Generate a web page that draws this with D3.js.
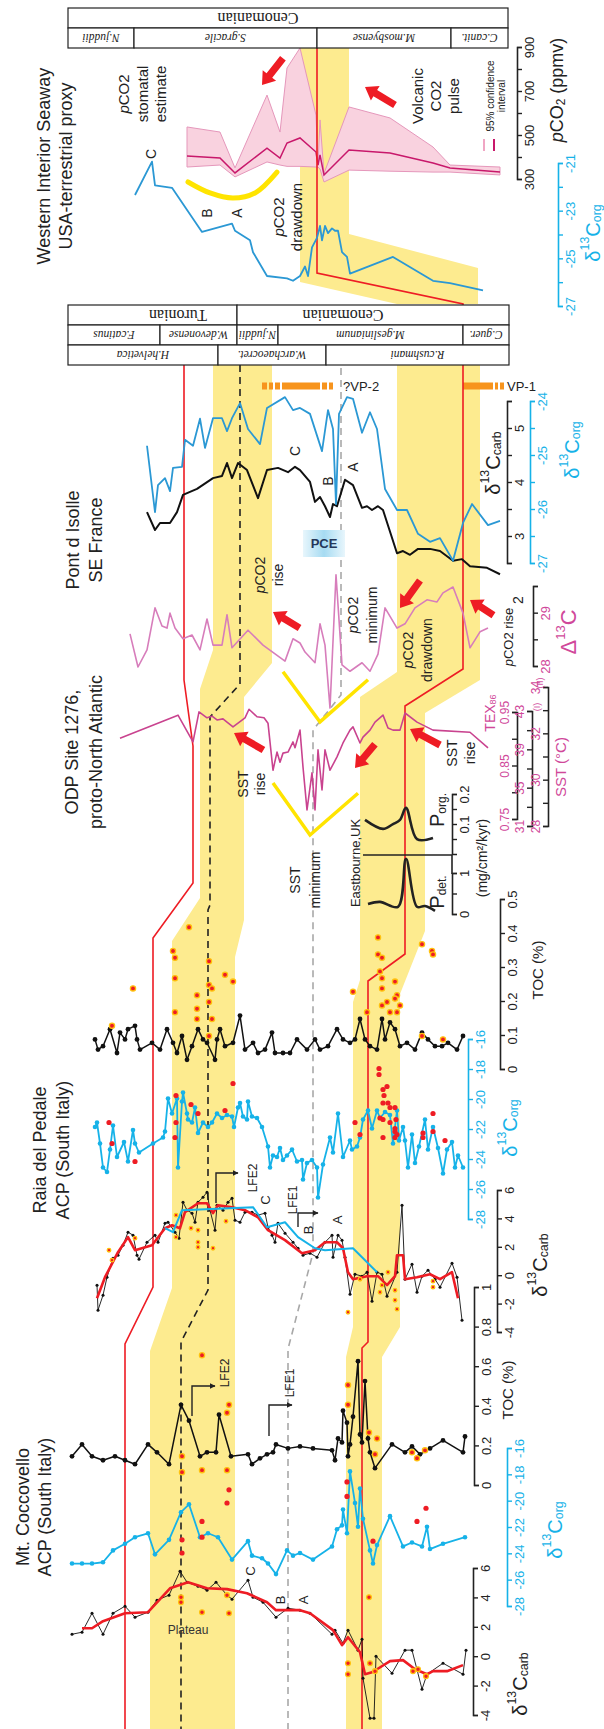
<!DOCTYPE html>
<html>
<head>
<meta charset="utf-8">
<script src="https://cdn.jsdelivr.net/npm/d3@7"></script>
<style>
  body { margin: 0; background: #fff; }
</style>
</head>
<body>
<svg id="fig" width="604" height="1729"></svg>
<script>
// ---- data: [stratigraphic position, value] ----
// Mt. Coccovello
const cocCarb = [[43.8,1.56],[42.8,1.70],[41.8,2.99],[40.7,1.56],[39.7,2.99],[38.5,3.47],[37.5,2.72],[36.2,3.06],[35.3,3.88],[34.1,4.22],[33.0,5.85],[32.3,5.10],[31.2,4.83],[30.3,4.56],[29.4,5.10],[28.3,4.22],[27.8,3.95],[26.2,5.24],[25.7,4.08],[24.7,3.74],[23.4,2.72],[22.2,3.33],[21.0,3.20],[20.0,2.99],[17.8,1.56],[17.5,1.84],[16.7,0.95],[16.2,1.84],[15.2,0.48],[14.8,1.22],[14.7,-1.43],[14.0,-4.15],[13.6,-4.15],[13.4,0.07],[11.8,-1.09],[10.5,0.48],[9.8,0.48],[8.8,-2.18],[8.3,-1.16],[6.7,-0.41],[4.7,-1.16],[4.4,0.48]];
const cocCarbSmooth = [[42.8,1.97],[41.8,1.97],[40.7,2.45],[38.5,2.99],[36.2,3.06],[34.0,4.69],[32.2,5.10],[30.3,4.69],[28.3,4.63],[26.3,4.35],[24.3,3.74],[23.4,3.20],[21.0,3.20],[20.0,2.99],[17.7,1.84],[16.8,0.82],[16.2,1.36],[15.0,0.34],[14.5,-1.16],[13.8,-1.02],[13.3,-0.82],[12.0,-0.27],[10.7,-0.20],[9.5,-0.82],[8.3,-1.16],[7.7,-0.95],[6.3,-0.95],[4.7,-0.54]];
const cocCarbDots = [[32.9,4.08],[32.9,3.74],[30.8,3.06],[28.3,4.22],[28.1,2.99],[16.2,-0.41],[16.2,-1.16],[14.0,-0.41],[13.5,-0.95],[9.7,-0.95],[9.2,-0.82],[8.4,-1.29],[14.1,4.08]];
const cocOrg = [[43.8,-24.7],[42.8,-24.7],[41.8,-24.7],[40.7,-24.6],[39.7,-23.7],[38.5,-23.2],[37.5,-22.7],[36.2,-22.4],[35.5,-24.0],[34.1,-22.9],[32.9,-20.8],[32.1,-20.2],[31.0,-22.7],[30.2,-22.4],[29.2,-22.7],[27.8,-24.4],[26.2,-23.0],[25.8,-24.1],[24.8,-24.3],[24.2,-24.7],[23.4,-25.5],[22.3,-23.7],[21.7,-24.1],[21.0,-23.9],[19.7,-24.4],[17.8,-23.4],[17.3,-22.1],[16.8,-21.8],[16.7,-20.6],[16.3,-22.4],[16.0,-17.7],[15.5,-20.1],[15.2,-21.9],[15.0,-19.0],[14.7,-21.3],[14.0,-23.7],[13.7,-24.7],[13.3,-23.3],[12.0,-21.1],[10.7,-23.4],[9.8,-23.1],[8.8,-23.4],[8.3,-21.9],[8.0,-23.6],[6.7,-23.2],[4.5,-22.7]];
const cocOrgDots = [[28.1,-19.1],[28.3,-20.1],[32.8,-22.9],[32.8,-23.9],[30.8,-21.5],[30.8,-22.7],[16.3,-18.5],[16.3,-19.6],[9.3,-21.5],[8.4,-20.5],[13.7,-23.0]];
const cocToc = [[43.8,0.15],[42.8,0.21],[41.8,0.15],[40.7,0.13],[39.5,0.15],[38.5,0.13],[37.5,0.11],[36.2,0.21],[35.3,0.17],[34.1,0.11],[32.9,0.41],[32.1,0.33],[31.0,0.15],[30.3,0.17],[29.4,0.17],[29.1,0.36],[27.9,0.15],[26.2,0.16],[25.8,0.11],[25.0,0.14],[24.3,0.16],[23.7,0.17],[23.4,0.21],[22.2,0.19],[21.0,0.20],[19.7,0.19],[17.8,0.18],[17.5,0.13],[17.2,0.24],[16.8,0.22],[16.7,0.38],[16.3,0.32],[16.2,0.15],[16.0,0.21],[15.7,0.35],[15.2,0.63],[15.0,0.26],[14.8,0.22],[14.5,0.53],[14.2,0.24],[14.0,0.17],[13.5,0.09],[11.8,0.21],[10.5,0.17],[9.8,0.20],[9.0,0.16],[8.0,0.19],[6.7,0.23],[4.7,0.17],[4.5,0.25]];
const cocTocDots = [[30.8,0.66],[28.1,0.41],[28.3,0.37],[32.8,0.15],[32.8,0.07],[30.8,0.08],[28.3,0.08],[16.2,0.51],[16.2,0.41],[14.1,0.27],[13.3,0.24],[13.5,0.16],[9.8,0.17],[9.3,0.14],[8.5,0.18]];

// Raia del Pedale
const raiaCarb = [[41.3,-0.63],[41.2,-2.39],[40.7,-1.34],[40.3,-0.07],[39.7,1.27],[39.2,1.48],[38.7,2.18],[38.2,3.10],[37.7,2.89],[37.3,1.48],[37.1,1.20],[36.3,2.39],[35.5,2.89],[35.2,2.39],[34.5,3.73],[34.2,3.80],[33.5,3.10],[33.1,2.68],[32.7,5.21],[32.3,4.65],[31.8,4.44],[31.5,3.80],[31.2,5.21],[30.7,5.56],[30.3,5.92],[30.0,4.65],[29.5,3.24],[29.3,5.00],[28.7,4.65],[28.2,5.21],[27.8,5.49],[27.5,3.94],[27.0,3.80],[26.5,4.51],[25.8,4.51],[25.2,4.30],[24.5,4.44],[24.2,3.45],[23.8,2.89],[23.5,2.39],[23.2,3.73],[22.5,3.03],[21.7,2.39],[21.2,1.97],[20.7,1.48],[20.0,1.62],[19.3,1.34],[18.5,2.39],[17.8,2.89],[17.7,1.34],[17.2,2.89],[16.8,2.54],[16.5,1.34],[16.0,-1.27],[15.5,0.14],[14.8,0.00],[14.3,0.28],[13.8,-1.76],[13.3,0.28],[12.8,0.14],[12.3,-1.41],[11.3,0.28],[10.8,5.00],[10.5,-0.21],[9.8,0.85],[9.3,-1.13],[8.8,0.00],[8.2,0.42],[7.5,-0.21],[7.0,-0.77],[5.8,0.92],[5.3,-0.07],[4.8,-3.10]];
const raiaCarbSmooth = [[41.3,-1.55],[40.5,-0.07],[39.2,1.69],[38.2,2.75],[37.5,1.83],[35.8,2.18],[34.5,3.38],[33.8,3.59],[33.0,3.38],[32.5,4.51],[31.2,5.14],[30.3,5.14],[29.7,4.44],[29.2,5.00],[27.8,4.86],[26.5,4.65],[25.2,4.15],[24.2,3.24],[22.5,2.54],[20.8,1.62],[19.5,1.83],[18.5,2.39],[17.3,2.39],[16.7,1.97],[16.2,0.28],[15.7,-0.21],[14.3,0.00],[13.2,0.00],[12.3,-0.63],[11.5,0.00],[11.3,1.48],[10.7,1.48],[10.5,-0.21],[9.3,-0.07],[8.0,0.14],[7.0,-0.21],[5.8,0.28],[5.2,-1.55]];
const raiaCarbOrgBased = [[34.5,3.38],[33.7,3.10],[32.8,4.65],[25.7,4.86],[24.3,3.45],[22.5,3.80],[21.2,2.75],[19.5,1.97],[18.5,1.83],[15.7,1.97],[13.3,0.28]];
const raiaCarbDots = [[40.1,1.83],[39.8,1.13],[37.5,2.68],[33.4,4.30],[33.4,2.75],[31.9,3.38],[31.2,3.24],[31.2,2.39],[31.2,2.04],[29.7,1.97],[28.4,3.87],[16.2,-2.54],[15.0,-0.21],[13.0,-1.13],[12.8,-0.63],[12.2,0.28],[11.5,-0.99],[11.5,-1.69],[11.3,-2.32],[7.7,-0.35],[7.7,-0.77]];
const raiaOrg = [[41.5,-21.8],[41.3,-21.5],[41.0,-22.9],[40.7,-24.5],[40.3,-24.8],[40.0,-23.3],[39.7,-21.7],[39.3,-23.8],[38.6,-22.8],[38.2,-24.1],[37.7,-22.0],[37.5,-22.9],[37.1,-23.5],[35.7,-22.9],[34.7,-22.5],[34.5,-22.1],[34.2,-19.9],[33.8,-20.9],[33.3,-19.9],[33.2,-24.5],[32.8,-20.1],[32.7,-19.5],[32.3,-20.9],[32.2,-21.3],[31.8,-21.5],[31.5,-20.5],[31.2,-22.2],[30.7,-21.5],[30.2,-21.8],[29.8,-21.5],[29.3,-20.9],[28.8,-21.2],[28.3,-21.0],[27.8,-21.1],[27.6,-21.8],[27.2,-20.5],[27.0,-20.2],[26.7,-21.1],[26.3,-21.3],[26.2,-20.1],[25.8,-21.1],[25.3,-21.2],[24.8,-21.8],[24.2,-23.1],[24.0,-24.5],[23.7,-23.7],[23.3,-23.8],[23.0,-23.2],[22.7,-24.0],[22.3,-23.7],[21.8,-23.3],[21.3,-24.1],[20.8,-24.0],[20.7,-25.3],[20.3,-24.2],[19.8,-24.0],[19.3,-24.5],[19.2,-26.5],[18.7,-24.3],[18.0,-22.5],[17.7,-23.5],[17.2,-20.9],[16.7,-23.8],[16.0,-22.7],[15.8,-23.3],[15.3,-23.1],[15.0,-22.5],[14.7,-21.3],[14.2,-20.7],[13.8,-21.9],[13.3,-20.7],[13.0,-21.2],[12.5,-20.8],[12.0,-21.0],[11.7,-22.9],[11.3,-20.7],[11.1,-22.7],[10.7,-21.8],[10.5,-22.7],[10.2,-24.5],[9.8,-22.3],[9.5,-24.2],[9.1,-23.1],[8.5,-21.3],[8.2,-23.3],[7.7,-21.8],[7.2,-23.2],[6.7,-24.9],[6.3,-23.3],[5.8,-22.8],[5.5,-24.5],[5.2,-23.7],[4.7,-24.5]];
const raiaOrgDots = [[40.1,-21.5],[39.8,-22.9],[37.5,-24.1],[33.4,-19.7],[33.4,-21.5],[33.5,-22.5],[31.9,-20.3],[31.2,-20.9],[28.5,-20.7],[27.7,-18.9],[13.1,-17.9],[13.1,-18.3],[12.3,-19.1],[12.7,-19.3],[12.6,-19.7],[12.7,-20.2],[12.2,-20.2],[12.0,-20.5],[11.5,-20.5],[13.0,-21.2],[12.7,-21.3],[12.0,-21.5],[11.4,-21.3],[11.5,-21.9],[11.5,-22.1],[11.5,-22.5],[11.3,-22.3],[12.7,-22.5],[15.5,-21.5],[15.0,-22.3],[7.7,-20.9],[7.7,-22.1],[8.7,-22.2],[8.7,-22.5],[6.5,-22.7]];
const raiaToc = [[41.5,0.09],[41.2,0.06],[40.7,0.07],[40.0,0.12],[39.3,0.05],[39.0,0.11],[38.5,0.09],[38.2,0.12],[37.5,0.13],[37.3,0.09],[37.0,0.06],[35.8,0.08],[35.0,0.06],[34.3,0.12],[33.7,0.08],[33.3,0.05],[32.8,0.10],[32.3,0.03],[31.8,0.07],[31.2,0.12],[30.7,0.09],[30.3,0.08],[29.5,0.03],[29.3,0.09],[29.0,0.12],[28.5,0.07],[27.7,0.08],[27.0,0.16],[26.5,0.06],[25.7,0.08],[25.2,0.05],[24.5,0.06],[23.8,0.11],[23.5,0.05],[22.7,0.05],[22.0,0.05],[21.3,0.09],[20.3,0.06],[19.5,0.09],[19.0,0.06],[18.2,0.07],[17.3,0.12],[16.7,0.09],[16.0,0.08],[15.5,0.09],[15.0,0.15],[14.5,0.09],[14.0,0.07],[13.3,0.06],[12.8,0.15],[12.5,0.09],[12.0,0.14],[11.5,0.12],[11.0,0.07],[10.3,0.08],[9.5,0.06],[8.8,0.11],[8.2,0.09],[7.5,0.07],[6.8,0.07],[6.2,0.08],[5.3,0.06],[4.7,0.10]];
const raiaTocDots = [[37.7,0.24],[39.8,0.13],[33.7,0.35],[33.5,0.33],[33.5,0.27],[33.5,0.17],[32.1,0.42],[31.3,0.22],[31.3,0.18],[31.3,0.15],[30.1,0.32],[30.1,0.25],[29.8,0.24],[30.1,0.20],[29.8,0.15],[30.1,0.10],[28.5,0.28],[27.7,0.26],[15.7,0.23],[14.3,0.17],[13.2,0.39],[13.2,0.34],[12.8,0.33],[13.0,0.29],[12.8,0.27],[12.8,0.24],[12.8,0.19],[12.3,0.20],[12.0,0.17],[11.5,0.26],[11.3,0.22],[11.5,0.21],[11.3,0.17],[11.0,0.19],[8.8,0.37],[7.8,0.35],[7.7,0.34],[8.8,0.10],[6.7,0.09]];

// Eastbourne, UK (mg/cm2/kyr)
const eastPorg = [[14.5,0.117],[12.7,0.087],[11.7,0.103],[11.0,0.117],[10.4,0.157],[9.3,0.053],[7.7,0.057]];
const eastPdet = [[14.2,0.27],[13.0,0.32],[11.2,0.20],[10.4,1.37],[9.3,0.20],[8.5,0.22],[7.5,0.10]];

// ODP Site 1276 TEX86
const odpTex = [[39.0,0.903],[33.2,0.946],[31.7,0.896],[31.1,0.952],[30.3,0.941],[29.8,0.944],[29.3,0.937],[28.7,0.939],[28.3,0.933],[27.7,0.924],[26.5,0.941],[26.1,0.957],[25.3,0.943],[24.6,0.941],[24.2,0.931],[23.7,0.843],[23.3,0.877],[23.0,0.858],[22.7,0.875],[22.2,0.877],[21.7,0.896],[21.5,0.885],[21.0,0.918],[20.7,0.849],[20.3,0.769],[19.8,0.838],[19.5,0.769],[19.2,0.881],[18.8,0.806],[18.5,0.881],[18.0,0.843],[17.3,0.868],[16.7,0.894],[16.0,0.918],[15.7,0.924],[15.0,0.894],[14.7,0.905],[14.0,0.918],[13.5,0.933],[12.7,0.946],[12.2,0.922],[11.7,0.918],[11.0,0.918],[10.5,0.950],[9.3,0.933],[7.7,0.918],[4.0,0.914],[2.2,0.885]];

// Pont d'Isolle
const pdiCapD = [[38.0,28.62],[37.2,28.00],[36.3,28.32],[35.5,29.11],[34.8,28.77],[34.3,28.73],[34.0,29.01],[33.5,28.73],[32.7,28.53],[31.8,28.60],[31.0,28.32],[30.3,28.90],[29.7,28.41],[28.8,28.41],[28.3,28.98],[27.8,28.36],[26.2,28.69],[24.7,28.41],[22.5,28.11],[21.7,28.53],[21.0,28.45],[20.5,28.28],[19.5,28.08],[19.0,28.81],[18.5,28.41],[18.0,27.23],[17.4,29.73],[16.8,28.04],[16.0,27.92],[14.8,28.08],[14.0,27.92],[13.2,28.24],[12.5,29.11],[11.3,28.73],[10.5,28.81],[9.5,29.11],[8.3,29.26],[7.3,29.22],[6.7,29.39],[5.7,29.50],[4.7,29.01],[4.0,28.36],[3.0,28.66],[2.2,28.73]];
const pdiCarb = [[36.3,3.46],[35.5,3.13],[35.0,3.26],[34.0,3.26],[33.3,3.46],[32.7,3.78],[31.3,3.89],[29.7,4.09],[28.8,4.13],[28.3,4.37],[27.8,4.09],[27.2,4.37],[26.3,4.24],[25.2,3.72],[24.3,4.24],[23.2,4.28],[22.2,4.20],[21.5,4.30],[21.0,4.24],[20.0,4.02],[19.5,3.65],[19.0,3.74],[18.5,3.57],[18.0,3.37],[17.7,3.61],[17.3,3.57],[16.5,4.06],[15.7,3.96],[14.8,3.54],[14.3,3.57],[13.8,3.50],[13.2,3.57],[12.7,3.50],[11.3,2.70],[10.7,2.74],[10.0,2.67],[9.2,2.78],[8.0,2.78],[7.0,2.74],[5.7,2.56],[4.8,2.59],[4.0,2.46],[2.3,2.43],[1.0,2.31]];
const pdiOrg = [[36.3,-24.81],[35.5,-26.04],[35.2,-25.54],[34.5,-25.41],[34.0,-25.65],[33.7,-25.22],[32.8,-25.20],[32.5,-24.70],[31.7,-24.81],[31.0,-24.31],[30.5,-24.85],[29.7,-24.30],[28.8,-24.30],[28.3,-24.54],[27.8,-24.30],[27.0,-24.02],[26.2,-24.50],[25.0,-24.78],[24.3,-24.11],[22.5,-23.91],[21.7,-24.15],[21.0,-24.11],[20.0,-24.22],[18.8,-24.91],[18.2,-24.15],[17.7,-24.50],[17.4,-25.89],[17.1,-24.22],[16.3,-23.91],[15.7,-23.94],[14.8,-24.57],[14.0,-24.19],[13.3,-24.50],[12.5,-25.61],[11.3,-26.00],[10.3,-26.00],[9.2,-26.44],[8.0,-26.59],[7.0,-26.52],[5.7,-26.94],[4.7,-26.24],[3.8,-25.89],[2.2,-26.28],[1.0,-26.20]];
const volcanicPulses = [[24.8,24.3],[24.1,23.7],[23.5,23.0],[22.8,19.0],[18.8,18.3],[18.1,17.7],[4.7,1.7],[1.5,1.2],[1.0,0.6]];

// Western Interior Seaway
const wisOrg = [[37.5,-22.3],[35.8,-20.9],[35.5,-21.9],[33.8,-22.0],[30.8,-23.85],[27.8,-23.5],[27.5,-23.8],[26.0,-24.2],[25.7,-24.7],[24.3,-25.7],[22.3,-25.8],[21.7,-25.9],[21.0,-25.7],[20.5,-25.3],[20.2,-25.7],[19.8,-24.5],[19.3,-24.1],[19.0,-23.6],[18.8,-24.2],[18.5,-23.6],[18.2,-23.9],[17.8,-23.7],[17.5,-23.8],[17.2,-23.8],[16.8,-24.7],[16.3,-24.9],[16.0,-25.6],[11.7,-24.9],[7.7,-25.9],[6.0,-26.0],[2.7,-26.3]];
// [position, lower 95%, estimate, upper 95%] pCO2 ppmv
const wisPco2 = [[32.3,359,409,541],[29.0,368,400,518],[27.5,314,332,355],[24.3,382,445,686],[23.0,368,400,518],[22.3,362,468,809],[21.0,362,491,900],[19.4,359,427,595],[19.2,359,368,368],[19.0,350,414,573],[18.6,291,323,330],[16.1,345,436,632],[12.0,340,423,582],[7.7,336,377,450],[6.0,336,355,368],[1.0,323,336,359]];

// biostratigraphy [name, from, to]
const wisStages = [["Cenomanian",44.2,0.2]];
const wisZones = [["N.juddii",44.2,37.6],["S.gracile",37.6,19.3],["M.mosbyense",19.3,5.9],["C.canit.",5.9,0.2]];
const pdiStages = [["Turonian",44.2,27.3],["Cenomanian",27.3,0.1]];
const pdiAmmonites = [["F.catinus",44.2,35.0],["W.devonense",35.0,27.3],["N.juddii",27.3,23.2],["M.geslinianum",23.2,4.7],["C.guer.",4.7,0.1]];
const pdiForams = [["H.helvetica",44.2,29.2],["W.archaeocret.",29.2,18.4],["R.cushmani",18.4,0.1]];

// correlation ties: position of each line in successive sections
const tieRedYoung = [32.6, 31.7, 35.7, 38.5];
const tieDashed = [27.0, 30.0, 30.2, 32.9];
const tieGrey = [16.9, 19.7, 19.7, 22.2];
const tieRedOld = [19.3, 4.7, 10.5, 14.2, 14.8];
const bandYoungTop = [29.7, 31.0, 33.8, 36.0];
const bandYoungBase = [23.8, 26.6, 27.5, 27.5];
const bandOldTop = [11.3, 15.0, 15.7, 16.4];
const bandOldBase = [3.0, 8.5, 11.0, 12.8];

// annotation traces
const odpV = [[23.7,0.819],[20.0,0.722],[15.2,0.800]];
const pdiV = [[22.7,27.91],[19.0,26.97],[14.2,27.76]];
const wisArc = [[32.2,291],[30.0,241],[27.7,218],[25.5,241],[23.3,336]];

// tick values
const carbTicks = [-4,-2,0,2,4,6];
const orgTicks = [-28,-26,-24,-22,-20,-18,-16];
const cocTocTicks = [0,0.2,0.4,0.6,0.8,1];
const raiaTocTicks = [0,0.1,0.2,0.3,0.4,0.5];

// ---- drawing ----
const H = 1729;
const FONT = '"Liberation Sans", Arial, Helvetica, sans-serif';
const SERIF = '"Liberation Serif", "Times New Roman", serif';
const RED = "#ee1c24", CYAN = "#16b2e8", BLUE = "#2b98d4", YEL = "#fdeb8f", MAG = "#d0489a";

const svg = d3.select("#fig");
svg.append("rect").attr("width", 604).attr("height", H).attr("fill", "#fff");
// figure is drawn landscape and turned a quarter
const main = svg.append("g").attr("transform", `translate(0,${H}) rotate(-90)`);
const over = svg.append("g");

const pos = d3.scaleLinear().domain([0, 44]).range([510, 70]);
const sc = (d0, d1, y0, y1) => d3.scaleLinear().domain([d0, d1]).range([H - y0, H - y1]);

const cocCarbX = sc(-4, 6, 1716, 1569);
const cocOrgX = sc(-28, -16, 1607, 1449);
const cocTocX = sc(0, 1, 1486, 1288);
const raiaCarbX = sc(-4, 6, 1333, 1191);
const raiaOrgX = sc(-28, -16, 1220, 1040);
const raiaTocX = sc(0, 0.5, 1070, 900);
const pdetX = sc(0, 1, 915, 874);
const porgX = sc(0, 0.2, 855, 795);
const texX = sc(0.75, 0.95, 820, 713);
const sst1X = sc(31, 43, 827, 712);
const sst2X = sc(28, 34, 827, 688);
const capDX = sc(28, 29.5, 667, 587);
const pdiCarbX = sc(2.5, 5.5, 564, 402);
const pdiOrgX = sc(-27, -24, 564, 402);
const pco2X = sc(300, 900, 180, 48);
const wisOrgX = sc(-27, -21, 307, 164);

const lineP = d3.line();

function tiePts(ties, ext) {
  return ties.flatMap((p, i) => [[H - ext[i][0], pos(p)], [H - ext[i][1], pos(p)]]);
}
function band(top, base, extT, extB, fill) {
  const a = tiePts(top, extT), b = tiePts(base, extB).reverse();
  main.append("path").attr("d", lineP(a.concat(b)) + "Z").attr("fill", fill);
}

// yellow correlation bands
band(bandYoungTop, bandYoungBase, [[365,650],[689,898],[941,1288],[1351,1729]], [[365,663],[697,920],[957,1300],[1300,1729]], YEL);
band(bandOldTop, bandOldBase, [[365,672],[697,980],[1002,1327],[1357,1729]], [[365,680],[713,931],[994,1327],[1357,1729]], YEL);
main.append("path").attr("fill", YEL).attr("d", lineP([[48,21.0],[282,21.0],[304,11.3],[304,3.2],[268,3.2],[234,16.1],[48,16.1]].map(d => [H - d[0], pos(d[1])])) + "Z");

// WIS pCO2 stomatal estimate with 95% interval
main.append("path").attr("fill", "#f9d2df").attr("stroke", "#e597bb").attr("stroke-width", 1)
  .attr("d", d3.area().y(d => pos(d[0])).x0(d => pco2X(d[1])).x1(d => pco2X(d[3]))(wisPco2));
main.append("path").attr("fill", "none").attr("stroke", "#c8186b").attr("stroke-width", 1.5)
  .attr("d", d3.line().y(d => pos(d[0])).x(d => pco2X(d[2]))(wisPco2));

// volcanic pulses
main.append("g").selectAll("rect").data(volcanicPulses).join("rect")
  .attr("x", H - 386 - 3.5).attr("width", 7)
  .attr("y", d => pos(d[0])).attr("height", d => pos(d[1]) - pos(d[0]))
  .attr("fill", "#f7941d");

// correlation lines
function corr(ties, ext, color, w, dash) {
  main.append("path").attr("d", lineP(tiePts(ties, ext))).attr("fill", "none")
    .attr("stroke", color).attr("stroke-width", w).attr("stroke-dasharray", dash || null);
}
corr(tieRedYoung, [[365,680],[746,883],[938,1287],[1344,1729]], RED, 1.6);
corr(tieRedOld, [[48,273],[304,669],[706,954],[981,1342],[1348,1729]], RED, 1.6);
corr(tieDashed, [[365,684],[717,905],[910,1290],[1342,1729]], "#222", 1.6, "7,5");
corr(tieGrey, [[368,695],[730,905],[910,1253],[1349,1729]], "#a8a8a8", 1.6, "7,5");

// yellow annotation traces
main.append("path").attr("fill", "none").attr("stroke", "#ffe400").attr("stroke-width", 5).attr("stroke-linecap", "round")
  .attr("d", d3.line().x(d => pco2X(d[1])).y(d => pos(d[0])).curve(d3.curveCatmullRom)(wisArc));
main.append("path").attr("fill", "none").attr("stroke", "#ffe400").attr("stroke-width", 3.5)
  .attr("d", d3.line().x(d => texX(d[1])).y(d => pos(d[0]))(odpV));
main.append("path").attr("fill", "none").attr("stroke", "#ffe400").attr("stroke-width", 3.5)
  .attr("d", d3.line().x(d => capDX(d[1])).y(d => pos(d[0]))(pdiV));

// series helpers
function series(data, xs, color, w, dot, curveType) {
  const l = d3.line().x(d => xs(d[1])).y(d => pos(d[0]));
  if (curveType) l.curve(curveType);
  main.append("path").attr("d", l(data)).attr("fill", "none").attr("stroke", color)
    .attr("stroke-width", w).attr("stroke-linejoin", "round");
  if (dot) main.append("g").selectAll("circle").data(data).join("circle")
    .attr("cx", d => xs(d[1])).attr("cy", d => pos(d[0])).attr("r", dot).attr("fill", color);
}
function spots(data, xs, r, ring) {
  main.append("g").selectAll("circle").data(data).join("circle")
    .attr("cx", d => xs(d[1])).attr("cy", d => pos(d[0])).attr("r", r)
    .attr("fill", RED).attr("stroke", ring ? "#ffc20e" : "none").attr("stroke-width", ring ? 1.3 : 0);
}

// Coccovello
series(cocToc, cocTocX, "#111", 1.5, 2.4);
spots(cocTocDots, cocTocX, 2.6, true);
series(cocOrg, cocOrgX, CYAN, 1.8, 2.3);
spots(cocOrgDots, cocOrgX, 2.6, false);
series(cocCarb, cocCarbX, "#111", 0.9, 1.5);
series(cocCarbSmooth, cocCarbX, RED, 2.6);
spots(cocCarbDots, cocCarbX, 2.4, true);

// Raia del Pedale
series(raiaToc, raiaTocX, "#111", 1.5, 2.4);
spots(raiaTocDots, raiaTocX, 2.6, true);
series(raiaOrg, raiaOrgX, CYAN, 1.8, 2.3);
spots(raiaOrgDots, raiaOrgX, 2.6, false);
series(raiaCarb, raiaCarbX, "#111", 0.9, 1.5);
series(raiaCarbSmooth, raiaCarbX, RED, 2.6);
series(raiaCarbOrgBased, raiaCarbX, CYAN, 2);
spots(raiaCarbDots, raiaCarbX, 1.8, true);

// Eastbourne
series(eastPorg, porgX, "#222", 2.6, 0, d3.curveCatmullRom);
series(eastPdet, pdetX, "#222", 2.6, 0, d3.curveCatmullRom);

// ODP and Pont d'Isolle
series(odpTex, texX, "#c9438f", 1.6);
series(pdiCapD, capDX, "#d77dbb", 1.6);
series(pdiCarb, pdiCarbX, "#111", 2);
series(pdiOrg, pdiOrgX, BLUE, 1.8);

// WIS
series(wisOrg, wisOrgX, BLUE, 1.8);

// biostratigraphy boxes
function zoneRow(cells, X0, X1, size, italic, at) {
  const g = main.append("g");
  cells.forEach(([name, a, b], i) => {
    g.append("rect").attr("x", H - X1).attr("width", X1 - X0).attr("y", pos(a)).attr("height", pos(b) - pos(a))
      .attr("fill", "#fff").attr("stroke", "#222").attr("stroke-width", 1.2);
    const cx = H - (X0 + X1) / 2, cy = at && at[i] != null ? pos(at[i]) : (pos(a) + pos(b)) / 2;
    g.append("text").attr("x", cx).attr("y", cy).attr("transform", `rotate(-90,${cx},${cy})`)
      .attr("text-anchor", "middle").attr("dominant-baseline", "central")
      .attr("font-family", SERIF).attr("font-size", size).attr("font-style", italic ? "italic" : "normal")
      .attr("fill", "#222").text(name);
  });
}
zoneRow(wisStages, 8, 28, 16, false, [25.2]);
zoneRow(wisZones, 28, 48, 11.5, true);
zoneRow(pdiStages, 305, 325, 16, false, [33.2, 16.7]);
zoneRow(pdiAmmonites, 325, 345, 11.5, true);
zoneRow(pdiForams, 345, 365, 11.5, true);

// axes
function axis(s, Y, ticks, labels, o = {}) {
  const ax = (o.top ? d3.axisTop(s) : d3.axisBottom(s)).tickValues(ticks).tickSizeOuter(0)
    .tickSize(5).tickPadding(3).tickFormat(d => labels.includes(d) ? String(d) : "");
  const g = main.append("g").attr("transform", `translate(0,${Y})`).call(ax);
  g.select(".domain").attr("stroke", o.line || "#222").attr("stroke-width", 1.6);
  g.selectAll(".tick line").attr("stroke", o.line || "#222").attr("stroke-width", 1.4);
  g.selectAll("text").attr("fill", o.text || o.line || "#222").attr("font-size", o.fs || 13).attr("font-family", FONT);
}
axis(cocCarbX, 473, carbTicks, carbTicks);
axis(cocOrgX, 507, orgTicks, orgTicks, { line: CYAN });
axis(cocTocX, 474, cocTocTicks, cocTocTicks);
axis(raiaCarbX, 497, carbTicks, carbTicks);
axis(raiaOrgX, 468, orgTicks, orgTicks, { line: CYAN });
axis(raiaTocX, 500, raiaTocTicks, raiaTocTicks);
axis(pdetX, 452, [0, 0.5, 1], [0, 1]);
axis(porgX, 452, [0.05, 0.1, 0.15, 0.2], [0.1, 0.2]);
main.append("line").attr("x1", pdetX(1)).attr("x2", porgX(0)).attr("y1", 452).attr("y2", 452).attr("stroke", "#222").attr("stroke-width", 1.6);
main.append("line").attr("x1", porgX(0)).attr("x2", porgX(0)).attr("y1", 363).attr("y2", 452).attr("stroke", "#222").attr("stroke-width", 1.4);
axis(texX, 517, [0.75, 0.8, 0.85, 0.9, 0.95], [0.75, 0.85, 0.95], { top: true, text: MAG, fs: 12 });
axis(sst1X, 532, [31, 33, 35, 37, 39, 41, 43], [31, 35, 39, 43], { top: true, text: MAG, fs: 12 });
axis(sst2X, 548, [28, 29, 30, 31, 32, 33, 34], [28, 30, 32, 34], { top: true, text: MAG, fs: 12 });
axis(capDX, 533, [28, 28.5, 29, 29.5], [28, 29], { text: MAG });
axis(pdiCarbX, 507, [2.5, 3, 3.5, 4, 4.5, 5, 5.5], [3, 4, 5]);
axis(pdiOrgX, 530, [-27, -26.5, -26, -25.5, -25, -24.5, -24], [-27, -26, -25, -24], { line: CYAN });
axis(pco2X, 517, [300, 400, 500, 600, 700, 800, 900], [300, 500, 700, 900]);
axis(wisOrgX, 558, [-27, -26, -25, -24, -23, -22, -21], [-27, -25, -23, -21], { line: CYAN });

// text
function txt(X, Y, html, o = {}) {
  const t = main.append("text").attr("x", X).attr("y", Y)
    .attr("text-anchor", o.anchor || "middle").attr("dominant-baseline", "central")
    .attr("font-size", o.size || 14).attr("fill", o.fill || "#222").attr("font-family", FONT);
  if (o.rot) t.attr("transform", `rotate(${o.rot},${X},${Y})`);
  t.html(html);
}
const block = (X, Ys, arr, o) => arr.forEach((h, i) => txt(X, Ys[i], h, o));
const iso = (sub, s) => `δ<tspan font-size="${0.62 * s}" dy="${-0.42 * s}">13</tspan><tspan dy="${0.42 * s}">C</tspan><tspan font-size="${0.62 * s}" dy="${0.2 * s}">${sub}</tspan>`;
const pco = `<tspan font-style="italic">p</tspan>CO2`;

// titles
block(1563, [44, 66], ["Western Interior Seaway", "USA-terrestrial proxy"], { size: 18 });
block(1189, [73, 96], ["Pont d Isolle", "SE France"], { size: 18 });
block(977, [72, 96], ["ODP Site 1276,", "proto-North Atlantic"], { size: 18 });
block(579, [40, 63], ["Raia del Pedale", "ACP (South Italy)"], { size: 18 });
block(222, [23, 45], ["Mt. Coccovello", "ACP (South Italy)"], { size: 18 });

// WIS
block(1635, [123, 142, 160], [pco, "stomatal", "estimate"], { size: 15 });
block(1512, [278, 296], [pco, "drawdown"], { size: 15 });
block(1633, [417, 435, 453], ["Volcanic", "CO2", "pulse"], { size: 15 });
block(1633, [490, 501], ["95% confidence", "interval"], { size: 10 });
main.append("line").attr("x1", 1578).attr("x2", 1590).attr("y1", 484).attr("y2", 484).attr("stroke", "#f0a6c4").attr("stroke-width", 2);
main.append("line").attr("x1", 1578).attr("x2", 1590).attr("y1", 494).attr("y2", 494).attr("stroke", "#c8186b").attr("stroke-width", 2);
txt(1639, 557, `<tspan font-style="italic">p</tspan>CO<tspan font-size="12" dy="4">2</tspan><tspan dy="-4"> (ppmv)</tspan>`, { size: 18 });
txt(1496, 593, iso("org", 20), { size: 20, fill: CYAN });
txt(1575, 151, "C"); txt(1516, 207, "B"); txt(1516, 237, "A");

// Pont d'Isolle
txt(1343, 343, "?VP-2", { anchor: "start", rot: 90, size: 13 });
txt(1343, 507, "VP-1", { anchor: "start", rot: 90, size: 13 });
txt(1278, 295, "C"); txt(1248, 328, "B"); txt(1262, 353, "A");
txt(1266, 493, iso("carb", 20), { size: 20 });
txt(1279, 572, iso("org", 20), { size: 20, fill: CYAN });
block(1154, [260, 278], [pco, "rise"], { size: 14 });
block(1114, [353, 372], [pco, "minimum"], { size: 14 });
block(1079, [408, 427], [pco, "drawdown"], { size: 14 });
txt(1092, 508, `${pco} rise`, { size: 13 });
txt(1129, 518, "2", { size: 14 });
txt(1097, 568, `Δ<tspan font-size="13" dy="-8">13</tspan><tspan dy="8">C</tspan>`, { size: 22, fill: MAG });

// PCE box
const defs = svg.append("defs");
const grad = defs.append("linearGradient").attr("id", "pce").attr("x1", 0).attr("y1", 0).attr("x2", 0).attr("y2", 1);
grad.append("stop").attr("offset", 0).attr("stop-color", "#e8f6fc");
grad.append("stop").attr("offset", 0.5).attr("stop-color", "#a6dbf2");
grad.append("stop").attr("offset", 1).attr("stop-color", "#e8f6fc");
main.append("rect").attr("x", H - 557).attr("y", 303).attr("width", 27).attr("height", 42).attr("fill", "url(#pce)");
txt(H - 543, 324, "<tspan font-weight='bold'>PCE</tspan>", { rot: 90, size: 13, fill: "#24375a" });

// ODP
txt(1016, 490, `TEX<tspan font-size="9" dy="3">86</tspan>`, { size: 14, fill: MAG });
txt(1022, 537, "(I)", { size: 9, fill: MAG });
txt(1046, 540, "(II)", { size: 9, fill: MAG });
txt(962, 560, "SST (°C)", { size: 15, fill: MAG });
block(945, [243, 260], ["SST", "rise"], { size: 14 });
block(849, [295, 315], ["SST", "minimum"], { size: 14 });
block(976, [452, 470], ["SST", "rise"], { size: 14 });

// Eastbourne
txt(866, 355, "Eastbourne,UK", { size: 13 });
txt(919, 437, `P<tspan font-size="12" dy="5">org.</tspan>`, { size: 20 });
txt(837, 437, `P<tspan font-size="12" dy="5">det.</tspan>`, { size: 20 });
txt(871, 482, "(mg/cm²/kyr)", { size: 14 });

// Raia
txt(464, 540, iso("carb", 20), { size: 20 });
txt(601, 510, iso("org", 20), { size: 20, fill: CYAN });
txt(759, 537, "TOC (%)", { size: 15 });
txt(529, 265, "C", { size: 13 }); txt(499, 308, "B", { size: 13 }); txt(509, 337, "A", { size: 13 });

// Coccovello
txt(45, 520, iso("carb", 20), { size: 20 });
txt(199, 555, iso("org", 20), { size: 20, fill: CYAN });
txt(339, 507, "TOC (%)", { size: 15 });
txt(158, 250, "C", { size: 13 }); txt(129, 280, "B", { size: 13 }); txt(129, 303, "A", { size: 13 });
txt(99, 188, "Plateau", { rot: 90, size: 12, fill: "#333" });

// LFE markers
defs.append("marker").attr("id", "tri").attr("viewBox", "0 0 10 10").attr("refX", 9).attr("refY", 5)
  .attr("markerWidth", 4).attr("markerHeight", 4).attr("orient", "auto")
  .append("path").attr("d", "M0,0 L10,5 L0,10 Z").attr("fill", "#222");
function lfe(X0, X1, Y0, Y1, name, lx, ly) {
  main.append("path").attr("d", `M${X0},${Y0} L${X1},${Y0} L${X1},${Y1}`).attr("fill", "none")
    .attr("stroke", "#222").attr("stroke-width", 1.4).attr("marker-end", "url(#tri)");
  txt(lx, ly, name, { size: 12 });
}
lfe(526, 556, 216, 238, "LFE2", 551, 253);
lfe(502, 516, 298, 318, "LFE1", 529, 293);
lfe(313, 343, 192, 215, "LFE2", 356, 225);
lfe(293, 324, 269, 292, "LFE1", 346, 290);

// red block arrows (image space): tip x, tip y, direction, length
const arrows = [[262,85,128,34],[365,87,-149,35],[273,612,-149,31],[400,608,126,34],[470,600,-147,28],[234,733,-150,34],[355,768,130,31],[410,729,-152,34]];
over.selectAll("path.arrow").data(arrows).join("path").attr("class", "arrow")
  .attr("transform", d => `translate(${d[0]},${d[1]}) rotate(${d[2]})`)
  .attr("d", d => `M0,0 L-12,-8.5 L-12,-3.6 L${-d[3]},-3.6 L${-d[3]},3.6 L-12,3.6 L-12,8.5 Z`)
  .attr("fill", RED);
</script>
</body>
</html>
